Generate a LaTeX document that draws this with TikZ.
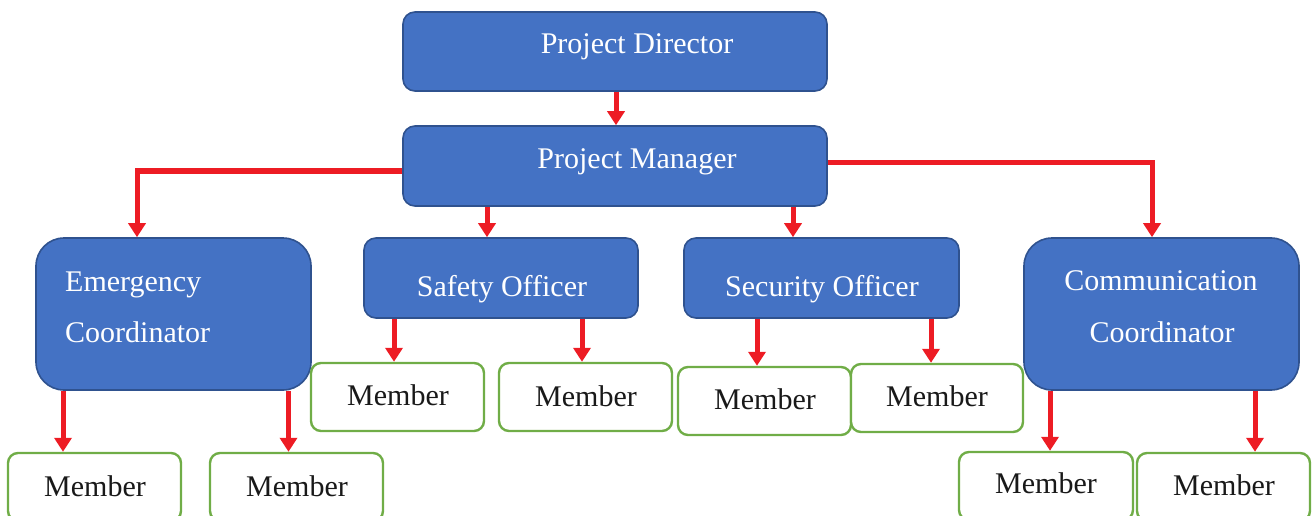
\documentclass[tikz,border=0pt]{standalone}
\usepackage{fontspec}
\setmainfont{Liberation Serif}
\usetikzlibrary{arrows.meta}
\definecolor{boxblue}{HTML}{4472C4}
\definecolor{boxedge}{HTML}{2F528F}
\definecolor{memgreen}{HTML}{70AD47}
\definecolor{arrred}{HTML}{ED1C24}
\tikzset{
  bluebox/.style={draw=boxedge, fill=boxblue, line width=1.6pt, rounded corners=12pt, inner sep=0pt},
  bigbox/.style={bluebox, rounded corners=28pt},
  membox/.style={draw=memgreen, fill=white, line width=2.4pt, rounded corners=10pt, inner sep=0pt, minimum width=173pt, minimum height=68pt},
  wtext/.style={text=white, inner sep=0pt, anchor=base, font=\fontsize{30}{36}\selectfont},
  btext/.style={text=black!90, inner sep=0pt, anchor=base, font=\fontsize{30}{36}\selectfont},
  arr/.style={draw=arrred, line width=5pt, -{Triangle[width=17pt,length=14pt]}}
}
\begin{document}
\begin{tikzpicture}[x=1pt,y=-1pt]
\useasboundingbox (0,0) rectangle (1312,516);
% blue boxes
\node[bluebox, minimum width=424pt, minimum height=79pt] (pd) at (615,51.5) {};
\node[bluebox, minimum width=424pt, minimum height=80pt] (pm) at (615,166) {};
\node[bigbox, minimum width=275pt, minimum height=152pt] (ec) at (173.5,314) {};
\node[bluebox, minimum width=274pt, minimum height=80pt] (sf) at (501,278) {};
\node[bluebox, minimum width=275pt, minimum height=80pt] (so) at (821.5,278) {};
\node[bigbox, minimum width=275pt, minimum height=152pt] (cc) at (1161.5,314) {};
% member boxes
\node[membox] (s1) at (397.5,397) {};
\node[membox] (s2) at (585.5,397) {};
\node[membox] (q1) at (764.5,401) {};
\node[membox, minimum width=172pt] (q2) at (937,398) {};
\node[membox] (e1) at (94.5,487) {};
\node[membox] (e2) at (296.5,487) {};
\node[membox, minimum width=174pt] (c1) at (1046,486) {};
\node[membox] (c2) at (1223.5,487) {};
% texts
\node[wtext] (tpd) at (637,54) {Project Director};
\node[wtext] (tpm) at (637,168) {Project Manager};
\node[wtext, anchor=base west] (tec1) at (65,291) {Emergency};
\node[wtext, anchor=base west] (tec2) at (65,342) {Coordinator};
\node[wtext] (tsf) at (502,296) {Safety Officer};
\node[wtext] (tso) at (822,296) {Security Officer};
\node[wtext] (tcc1) at (1161,290) {Communication};
\node[wtext] (tcc2) at (1162,342) {Coordinator};
\node[btext] (ts1) at (398,405) {Member};
\node[btext] (ts2) at (586,406) {Member};
\node[btext] (tq1) at (765,409) {Member};
\node[btext] (tq2) at (937,406) {Member};
\node[btext] (te1) at (95,496) {Member};
\node[btext] (te2) at (297,496) {Member};
\node[btext] (tc1) at (1046,493) {Member};
\node[btext] (tc2) at (1224,495) {Member};
% connectors
\draw[arr] ([xshift=1pt]pd.south) -- ([xshift=1pt]pd.south |- pm.north);
\draw[arr] ([yshift=-5pt]pm.west) -| ([xshift=-36.5pt]ec.north);
\draw[arr] ([yshift=3pt]pm.east) -| ([xshift=-9.5pt]cc.north);
\draw[arr] ([xshift=-128pt]pm.south) -- ([xshift=-128pt]pm.south |- sf.north);
\draw[arr] ([xshift=178pt]pm.south) -- ([xshift=178pt]pm.south |- so.north);
\draw[arr] ([xshift=-107pt]sf.south) -- ([xshift=-107pt]sf.south |- s1.north);
\draw[arr] ([xshift=81pt]sf.south) -- ([xshift=81pt]sf.south |- s2.north);
\draw[arr] ([xshift=-64.5pt]so.south) -- ([xshift=-64.5pt]so.south |- q1.north);
\draw[arr] ([xshift=109.5pt]so.south) -- ([xshift=109.5pt]so.south |- q2.north);
\draw[arr] ([xshift=-110.5pt]ec.south) -- ([xshift=-110.5pt]ec.south |- e1.north);
\draw[arr] ([xshift=115pt]ec.south) -- ([xshift=115pt]ec.south |- e2.north);
\draw[arr] ([xshift=-111.5pt]cc.south) -- ([xshift=-111.5pt]cc.south |- c1.north);
\draw[arr] ([xshift=93.5pt]cc.south) -- ([xshift=93.5pt]cc.south |- c2.north);
\end{tikzpicture}
\end{document}
